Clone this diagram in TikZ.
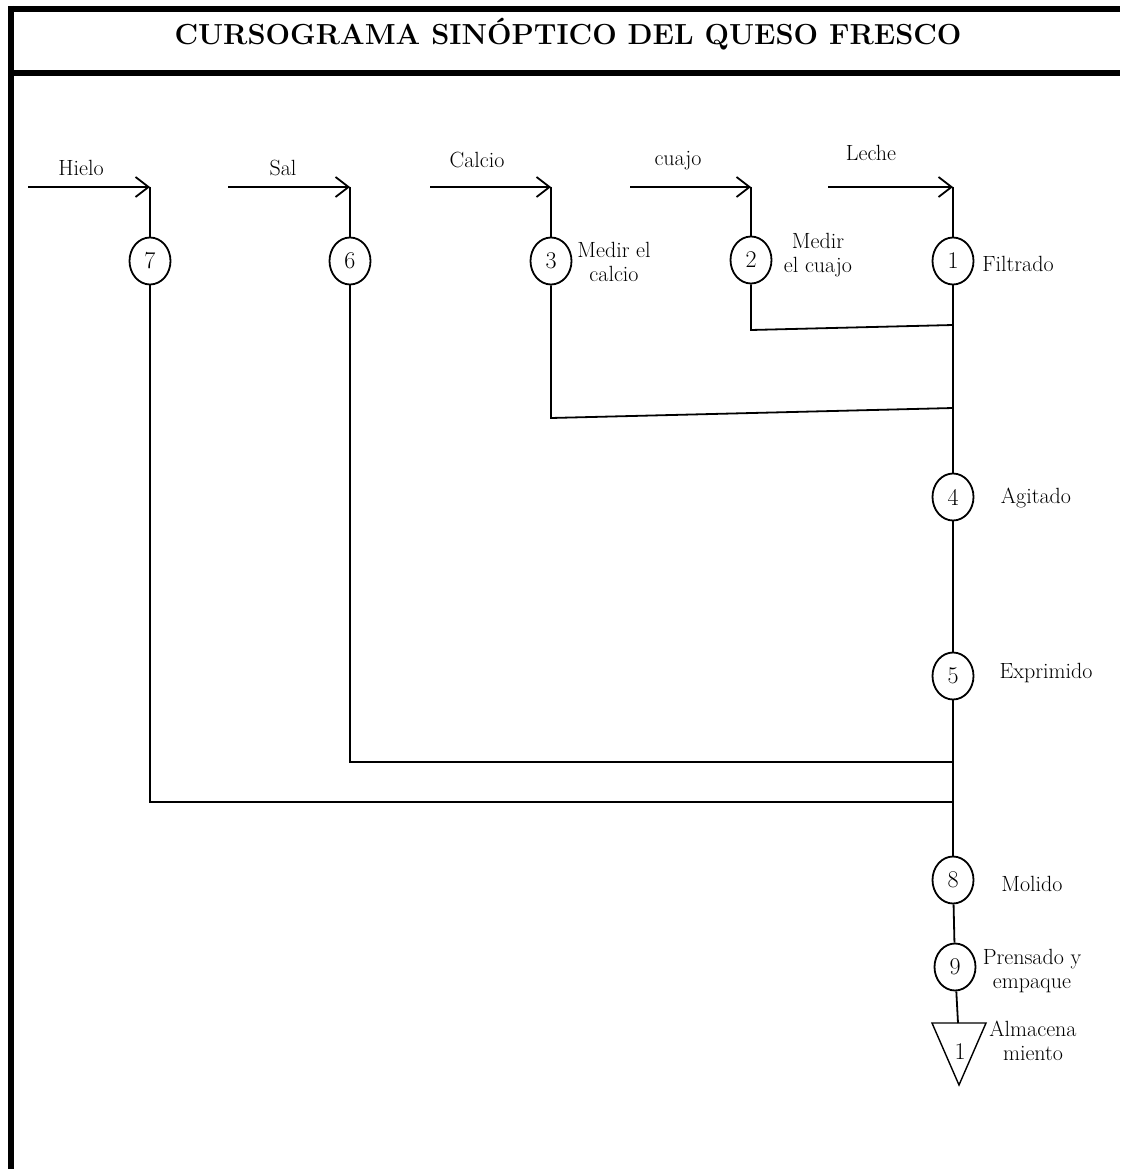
\documentclass[tikz,border=0pt]{standalone}
\usepackage{fontspec}
\usetikzlibrary{shapes.geometric,arrows.meta}
\begin{document}
\begin{tikzpicture}[x=1pt,y=-1pt,
  frame/.style={line width=6pt},
  flow/.style={line width=1.8pt},
  feed/.style={line width=1.8pt,-{Straight Barb[length=13pt,width=20pt,line width=1.8pt]}},
  oper/.style={ellipse,draw,line width=1.8pt,minimum width=41pt,minimum height=47pt,inner sep=0pt,font=\fontsize{24}{26}\selectfont},
  lbl/.style={font=\fontsize{22}{23.5}\selectfont,align=center,inner sep=0pt},
  ttl/.style={font=\fontsize{29}{32}\selectfont\bfseries,inner sep=0pt}]
\useasboundingbox (0,0) rectangle (1120,1169);
% outer frame and title band
\draw[frame] (11,6) -- (11,1169);
\draw[frame] (8,9) -- (1120,9);
\draw[frame] (8,73) -- (1120,73);
\node[ttl] (title) at (568,34) {CURSOGRAMA SINÓPTICO DEL QUESO FRESCO};

% incoming materials
\coordinate (h0) at (28,187);  \coordinate (h1) at (150,187);
\coordinate (s0) at (228,187); \coordinate (s1) at (350,187);
\coordinate (k0) at (430,187); \coordinate (k1) at (551,187);
\coordinate (q0) at (630,187); \coordinate (q1) at (751,187);
\coordinate (l0) at (828,187); \coordinate (l1) at (953,187);
\draw[feed] (h0) -- (h1);
\draw[feed] (s0) -- (s1);
\draw[feed] (k0) -- (k1);
\draw[feed] (q0) -- (q1);
\draw[feed] (l0) -- (l1);
\node[lbl] (th) at (81,168) {Hielo};
\node[lbl] (ts) at (283,168) {Sal};
\node[lbl] (tk) at (477,160) {Calcio};
\node[lbl] (tq) at (678,161) {cuajo};
\node[lbl] (tl) at (871,153) {Leche};

% operations
\node[oper] (o7) at (150,261) {7};
\node[oper] (o6) at (350,261) {6};
\node[oper] (o3) at (551,261) {3};
\node[oper] (o2) at (751,260) {2};
\node[oper] (o1) at (953,261) {1};
\node[oper] (o4) at (953,497) {4};
\node[oper] (o5) at (953,676) {5};
\node[oper] (o8) at (953,880) {8};
\node[oper] (o9) at (955,967) {9};

\node[lbl] (t3) at (614,262) {Medir el\\calcio};
\node[lbl] (t2) at (818,255) {Medir\\el cuajo};
\node[lbl] (t1) at (1018,264) {Filtrado};
\node[lbl] (t4) at (1036,498) {Agitado};
\node[lbl] (t5) at (1046,673) {Exprimido};
\node[lbl] (t8) at (1032,884) {Molido};
\node[lbl] (t9) at (1032,971) {Prensado y\\empaque};

% storage
\coordinate (st) at (958,1023);
\coordinate (sa) at (932,1023);
\coordinate (sb) at (986,1023);
\coordinate (sc) at (959,1085);
\draw[line width=1.4pt,line join=miter] (sa) -- (sb) -- (sc) -- cycle;
\node[lbl] (s1n) at (960,1052) {\fontsize{24}{26}\selectfont 1};
\node[lbl] (ts1) at (1033,1041) {Almacena\\miento};

% feed drops
\draw[flow] (h1) -- (o7);
\draw[flow] (s1) -- (o6);
\draw[flow] (k1) -- (o3);
\draw[flow] (q1) -- (o2);
\draw[flow] (l1) -- (o1);

% joins to the main line
\coordinate (j2) at (953,325);
\coordinate (j3) at (953,408);
\coordinate (j6) at (953,762);
\coordinate (j7) at (953,802);
\draw[flow] (o2) -- (751,330) -- (j2);
\draw[flow] (o3) -- (551,418) -- (j3);
\draw[flow] (o6) -- (350,762) -- (j6);
\draw[flow] (o7) -- (150,802) -- (j7);

% main line
\draw[flow] (o1) -- (o4);
\draw[flow] (o4) -- (o5);
\draw[flow] (o5) -- (o8);
\draw[flow] (o8) -- (o9);
\draw[flow] (o9) -- (st);
\end{tikzpicture}
\end{document}
